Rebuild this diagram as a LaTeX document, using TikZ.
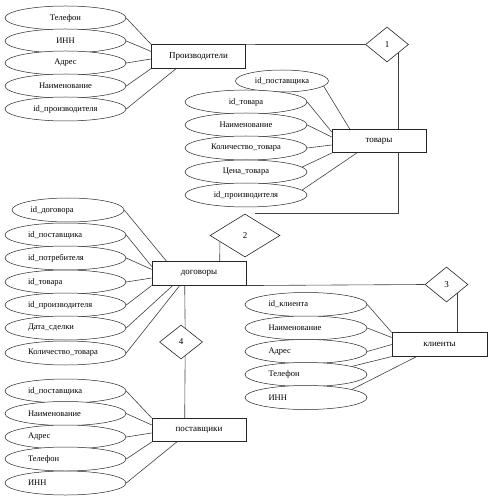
\documentclass[tikz,border=0pt]{standalone}
\usepackage{fontspec}
\setmainfont{Liberation Serif}
\usetikzlibrary{shapes.geometric, calc}
\tikzset{
	entity/.style={rectangle, draw=black!85, line width=0.6pt, fill=white,
		minimum width=94pt, minimum height=23.5pt, inner sep=2pt,
		font=\fontsize{9}{11}\selectfont},
	attr/.style={ellipse, draw=black!85, line width=0.5pt, fill=white,
		minimum width=121pt, minimum height=24pt, inner sep=0pt,
		font=\fontsize{8.5}{10}\selectfont},
	attrl/.style={attr, text width=75pt, align=left},
	rel/.style={diamond, draw=black!85, line width=0.6pt, fill=white,
		minimum width=43pt, minimum height=35pt, inner sep=0pt,
		font=\fontsize{9}{11}\selectfont},
	link/.style={draw=black!75, line width=0.6pt}
}

\begin{document}
\begin{tikzpicture}[x=1pt, y=-1pt]
	\useasboundingbox (0,0) rectangle (488,502);
	% entities
	\node[entity] (proizv) at (198.5,56.5) {Производители};
	\node[entity] (tovary) at (379,141) {товары};
	\node[entity] (dogovory) at (199,273.5) {договоры};
	\node[entity, minimum width=95pt] (klienty) at (439.5,344.5) {клиенты};
	\node[entity] (postav) at (199,430) {поставщики};
	% relations
	\node[rel] (r1) at (387,44.5) {1};
	\node[rel, minimum width=70pt, minimum height=43pt] (r2) at (245,235.5) {2};
	\node[rel] (r3) at (446.5,284.5) {3};
	\node[rel, minimum height=34pt] (r4) at (181,342) {4};
	% attributes
	\foreach \n/\y/\t in {p1/18/Телефон, p2/41/ИНН, p3/63/Адрес,
			p4/86/Наименование, p5/109/id\_производителя}
		\node[attr] (\n) at (65.5,\y) {\t};
	\node[attr, minimum width=93pt, minimum height=22pt] (t1) at (282,81) {id\_поставщика};
	\foreach \n/\y/\t in {t2/102/id\_товара, t3/125/Наименование,
			t4/148/Количество\_товара, t5/172/Цена\_товара, t6/195/id\_производителя}
		\node[attr, minimum width=122pt] (\n) at (246,\y) {\t};
	\node[attrl, minimum width=112pt] (d1) at (68,210) {id\_договора};
	\foreach \n/\y/\t in {d2/235/id\_поставщика, d3/258/id\_потребителя,
			d4/282/id\_товара, d5/305/id\_производителя, d6/328/Дата\_сделки,
			d7/353/Количество\_товара}
		\node[attrl] (\n) at (65.5,\y) {\t};
	\foreach \n/\y/\t in {k1/304.5/id\_клиента, k2/328/Наименование,
			k3/351.5/Адрес, k4/374.5/Телефон, k5/397.5/ИНН}
		\node[attrl, minimum width=122pt] (\n) at (306,\y) {\t};
	\foreach \n/\y/\t in {s1/391/id\_поставщика, s2/413.5/Наименование,
			s3/437/Адрес, s4/459/Телефон, s5/483/ИНН}
		\node[attrl] (\n) at (65.5,\y) {\t};
	% attribute links
	\foreach \a/\b/\dx/\dy in {p1.east/proizv.north west/0/0, p2.east/proizv.north west/0/7,
			p3.east/proizv.west/0/2.5, p4.east/proizv.south west/0/0, p5.east/proizv.south west/25/0,
			t1.-7/tovary.north west/18/0, t2.east/tovary.north west/0/3, t3.east/tovary.west/0/-4,
			t4.east/tovary.west/0/4, t5.5/tovary.south west/0/0, t6.5/tovary.south west/25/0,
			d1.east/dogovory.north west/15/0, d2.east/dogovory.north west/0/5,
			d3.east/dogovory.north west/0/8, d4.east/dogovory.west/0/4.5,
			d5.east/dogovory.south west/0/0, d6.east/dogovory.south west/21/0,
			d7.east/dogovory.south west/28/0,
			k1.east/klienty.north west/0/0, k2.east/klienty.north west/0/5,
			k3.east/klienty.west/0/0, k4.10/klienty.south west/0/0, k5.10/klienty.south west/25/0,
			s1.east/postav.north west/0/0, s2.east/postav.north west/0/7,
			s3.east/postav.west/0/3, s4.east/postav.south west/0/0, s5.east/postav.south west/25/0}
		\draw[link] (\a) -- ($(\b)+(\dx,\dy)$);
	% relation links
	\draw[link] (proizv.north east) -- (r1.west);
	\draw[link] (r1.south east) -- (r1.south east |- tovary.north);
	\draw[link] (r1.south east |- tovary.south) |- ($(r2.north)+(10,0)$);
	\draw[link] ($(dogovory.north west)+(68,0)$) -- ($(r2.west)!0.29!(r2.south)$);
	\draw[link] (dogovory.south east) -- (r3.west);
	\draw[link] (r3.south east) -- (r3.south east |- klienty.north);
	\draw[link] ($(dogovory.south west)+(33,0)$) -- ($(r4.north)!0.19!(r4.east)$);
	\draw[link] ($(r4.south)!0.19!(r4.east)$) -- ($(postav.north west)+(33,0)$);
\end{tikzpicture}
\end{document}
